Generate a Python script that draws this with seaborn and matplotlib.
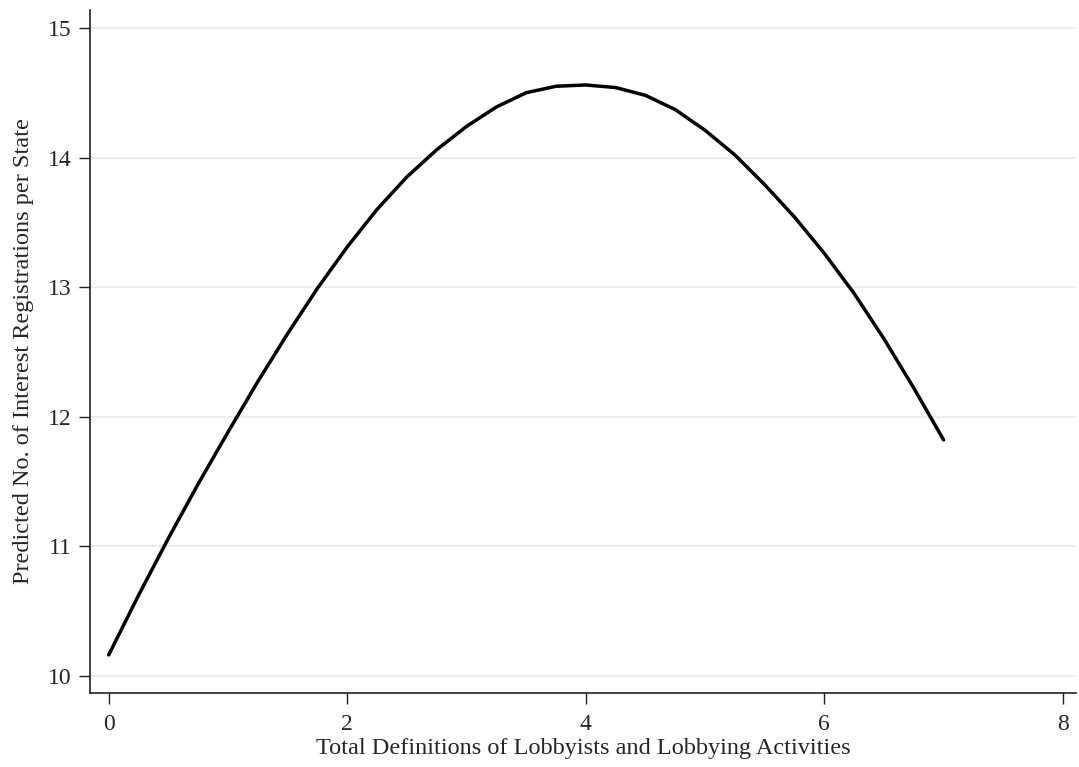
import numpy as np
import pandas as pd
import seaborn as sns
import matplotlib.pyplot as plt

# values
definitions = [0, 0.25, 0.5, 0.75, 1.0, 1.25, 1.5, 1.75, 2.0, 2.25, 2.5, 2.75,
               3.0, 3.25, 3.5, 3.75, 4.0, 4.25, 4.5, 4.75, 5.0, 5.25, 5.5,
               5.75, 6.0, 6.25, 6.5, 6.75, 7.0]
predicted = [10.16, 10.62, 11.06, 11.48, 11.88, 12.27, 12.64, 12.99, 13.31,
             13.60, 13.85, 14.06, 14.24, 14.39, 14.50, 14.55, 14.56, 14.54,
             14.48, 14.37, 14.21, 14.02, 13.79, 13.54, 13.26, 12.95, 12.60,
             12.22, 11.82]
x_ticks = [0, 2, 4, 6, 8]
y_ticks = [10, 11, 12, 13, 14, 15]

df = pd.DataFrame({'definitions': definitions, 'predicted': predicted})

sns.set_style('white')
plt.rcParams['font.family'] = ['Liberation Serif', 'DejaVu Serif']

fig = plt.figure(figsize=(10.79, 7.67), dpi=100)
ax = fig.add_axes([0.0834, 0.0965, 0.9136, 0.8905])

sns.lineplot(data=df, x='definitions', y='predicted', ax=ax,
             color='black', linewidth=2.5)

ax.set_xlim(-0.157, 8.108)
ax.set_ylim(9.866, 15.139)
ax.set_xticks(x_ticks)
ax.set_yticks(y_ticks)
ax.yaxis.grid(True, color='#e9edf0', linewidth=1.3)
ax.xaxis.grid(False)
ax.set_axisbelow(True)

for side in ['top', 'right']:
    ax.spines[side].set_visible(False)
for side in ['left', 'bottom']:
    ax.spines[side].set_color('#222222')
    ax.spines[side].set_linewidth(1.2)

ax.tick_params(axis='both', direction='out', length=8, width=1,
               color='#222222', labelsize=17, pad=5, left=True, bottom=True)
ax.tick_params(axis='x', pad=7)

ax.set_xlabel('Total Definitions of Lobbyists and Lobbying Activities', fontsize=17.5, labelpad=2)
ax.set_ylabel('Predicted No. of Interest Registrations per State', fontsize=17.5, labelpad=10)

fig.savefig('out.png', dpi=100, facecolor='white')
